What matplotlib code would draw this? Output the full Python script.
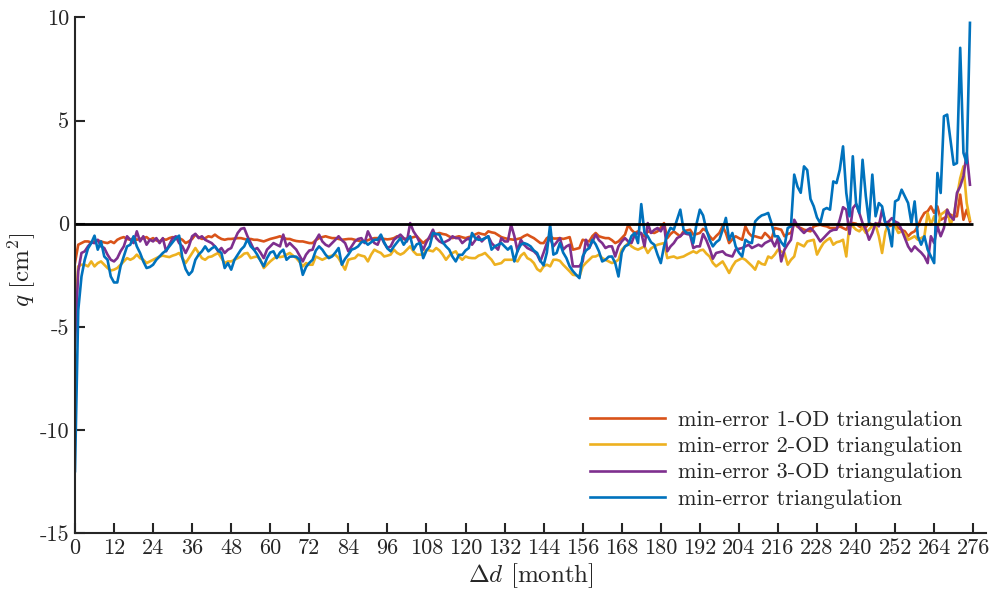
import numpy as np
import matplotlib
matplotlib.use('Agg')
import matplotlib.pyplot as plt

plt.rcParams['font.family'] = 'serif'
plt.rcParams['font.serif'] = ['cmr10']
plt.rcParams['mathtext.fontset'] = 'cm'
plt.rcParams['axes.unicode_minus'] = False
plt.rcParams['axes.formatter.use_mathtext'] = False

# months since start
months = np.arange(276)

# min-error 1-OD triangulation
q_1od = [
    -1.90, -1.02, -0.94, -0.86, -0.86, -0.91, -0.86, -0.81, -0.86, -0.91, -0.94, -0.86,
    -0.94, -0.78, -0.70, -0.65, -0.74, -0.78, -0.70, -0.78, -0.74, -0.70, -0.65, -0.78,
    -0.70, -0.81, -0.86, -0.74, -0.78, -0.70, -0.65, -0.74, -0.70, -0.78, -0.94, -0.86,
    -0.74, -0.53, -0.65, -0.74, -0.70, -0.61, -0.65, -0.53, -0.65, -0.74, -0.78, -0.74,
    -0.74, -0.72, -0.70, -0.70, -0.74, -0.78, -0.74, -0.78, -0.78, -0.82, -0.86, -0.80,
    -0.74, -0.70, -0.66, -0.61, -0.68, -0.74, -0.74, -0.80, -0.84, -0.86, -0.86, -0.90,
    -0.94, -0.94, -0.80, -0.70, -0.65, -0.61, -0.66, -0.70, -0.70, -0.74, -0.78, -0.76,
    -0.74, -0.74, -0.78, -0.82, -0.86, -0.86, -0.80, -0.74, -0.70, -0.70, -0.72, -0.74,
    -0.76, -0.74, -0.70, -0.61, -0.68, -0.74, -0.72, -0.70, -0.65, -0.61, -0.78, -0.94,
    -0.80, -0.70, -0.60, -0.50, -0.45, -0.50, -0.53, -0.62, -0.70, -0.65, -0.61, -0.66,
    -0.70, -0.65, -0.61, -0.52, -0.45, -0.50, -0.53, -0.37, -0.42, -0.45, -0.55, -0.65,
    -0.70, -0.74, -0.76, -0.78, -0.74, -0.70, -0.60, -0.53, -0.62, -0.70, -0.82, -0.94,
    -0.94, -0.70, -0.61, -0.72, -0.72, -0.70, -0.74, -0.70, -0.65, -1.26, -1.22, -1.18,
    -0.78, -0.82, -0.86, -0.60, -0.45, -0.61, -0.66, -0.70, -0.70, -0.80, -0.94, -0.86,
    -0.70, -0.53, -0.05, -0.30, -0.45, -0.37, -0.50, -0.61, -0.37, -0.42, -0.45, -0.37,
    -0.20, 0.03, -0.70, -0.50, -0.37, -0.50, -0.61, -0.37, -0.33, -0.29, -0.53, -0.50,
    -0.45, -0.25, -0.35, -0.61, -0.78, -0.60, -0.45, -0.13, -0.45, -0.94, -0.75, -0.61,
    -0.70, -0.78, -0.13, -0.45, -0.61, -0.61, -0.66, -0.70, -0.45, -0.60, -0.78, -0.21,
    -0.25, -0.29, -0.61, -0.50, -0.45, 0.03, -0.15, -0.21, -0.29, -0.33, -0.37, -0.13,
    -0.08, -0.05, -0.10, -0.13, -0.21, -0.21, -0.21, -0.13, -0.21, -0.29, 0.03, 0.03,
    0.00, -0.13, -0.21, -0.17, 0.03, -0.05, -0.05, 0.03, -0.02, -0.05, -0.13, -0.08,
    -0.05, -0.21, -0.30, -0.37, -0.61, -0.45, -0.37, -0.13, 0.25, 0.52, 0.60, 0.84,
    0.52, 0.84, 0.19, 0.27, 0.35, 0.44, 0.35, 0.36, 1.41, 0.19, 0.68, 0.11,
]

# min-error 2-OD triangulation
q_2od = [
    -4.50, -2.07, -1.99, -1.99, -2.07, -1.83, -2.07, -1.91, -1.83, -1.99, -2.15, -2.27,
    -2.23, -2.15, -1.99, -1.83, -1.67, -1.75, -1.67, -1.50, -1.67, -1.75, -1.91, -1.83,
    -1.75, -1.67, -1.59, -1.55, -1.59, -1.62, -1.55, -1.50, -1.42, -1.67, -1.91, -1.67,
    -1.42, -1.18, -1.42, -1.67, -1.75, -1.62, -1.59, -1.50, -1.42, -1.67, -1.91, -1.83,
    -1.83, -1.75, -1.67, -1.59, -1.45, -1.42, -1.67, -1.62, -1.59, -1.75, -2.15, -1.99,
    -1.83, -1.70, -1.59, -1.62, -1.59, -1.50, -1.42, -1.55, -1.67, -1.85, -2.07, -1.91,
    -1.99, -1.99, -1.59, -1.67, -1.75, -1.67, -1.59, -1.55, -1.50, -1.67, -1.95, -2.23,
    -1.75, -1.70, -1.67, -1.50, -1.55, -1.59, -1.83, -1.50, -1.26, -1.35, -1.42, -1.59,
    -1.55, -1.50, -1.26, -1.42, -1.50, -1.42, -1.26, -1.10, -1.34, -1.50, -1.50, -1.50,
    -1.26, -1.30, -1.34, -1.18, -1.30, -1.50, -1.75, -1.55, -1.42, -1.34, -1.60, -1.75,
    -1.59, -1.65, -1.67, -1.67, -1.55, -1.50, -1.42, -1.59, -1.75, -1.99, -1.95, -1.91,
    -1.75, -1.75, -1.75, -1.75, -1.83, -1.55, -1.42, -1.67, -1.75, -1.91, -2.20, -2.31,
    -2.07, -1.99, -2.07, -1.75, -1.75, -1.80, -1.99, -2.15, -2.31, -2.48, -2.50, -2.56,
    -2.07, -1.90, -1.75, -1.60, -1.59, -1.50, -1.67, -1.75, -1.83, -1.91, -1.85, -1.75,
    -1.26, -1.10, -0.94, -1.10, -1.20, -1.26, -1.18, -1.10, -1.42, -1.20, -1.10, -1.02,
    -0.98, -0.94, -1.67, -1.62, -1.59, -1.67, -1.63, -1.59, -1.50, -1.42, -1.34, -1.42,
    -1.30, -1.26, -1.45, -1.59, -1.90, -2.07, -1.95, -1.83, -2.10, -2.39, -2.07, -1.83,
    -1.75, -1.67, -1.75, -1.90, -2.05, -2.23, -1.83, -1.95, -1.99, -1.59, -1.67, -1.50,
    -1.26, -1.35, -1.42, -1.99, -1.75, -1.59, -0.94, -1.02, -1.10, -0.86, -0.82, -0.78,
    -1.50, -1.20, -0.94, -0.80, -0.70, -1.02, -0.90, -0.86, -0.78, -1.59, 0.03, -0.13,
    -0.29, -0.37, -0.20, -0.45, -0.29, -0.10, -0.05, -0.61, -1.42, -0.40, 0.03, -0.05,
    -0.13, -0.45, -0.37, -0.50, -0.78, -0.70, -0.61, -0.78, -0.70, -0.61, 0.52, -0.05,
    0.36, -0.29, 0.44, 0.55, 0.68, -0.05, 0.36, 1.30, 2.20, 2.78, 1.00, 0.19,
]

# min-error 3-OD triangulation
q_3od = [
    -5.90, -2.30, -1.42, -1.34, -1.10, -0.91, -0.94, -0.78, -1.10, -1.18, -1.50, -1.75,
    -1.83, -1.67, -1.34, -1.10, -0.61, -0.78, -0.94, -0.37, -0.86, -0.61, -1.02, -0.78,
    -0.86, -0.70, -0.94, -0.70, -1.34, -1.02, -0.70, -0.61, -0.94, -1.10, -1.42, -1.10,
    -0.61, -0.49, -0.70, -0.61, -0.78, -0.86, -0.94, -1.10, -1.34, -1.18, -1.42, -1.26,
    -1.18, -0.80, -0.45, -0.25, -0.21, -0.61, -0.94, -1.26, -1.18, -1.40, -1.67, -1.26,
    -1.10, -0.94, -1.02, -1.10, -0.53, -1.10, -0.94, -1.10, -1.26, -1.55, -1.83, -1.50,
    -1.30, -1.26, -0.80, -0.53, -0.86, -1.02, -1.10, -0.94, -0.78, -0.61, -0.80, -0.94,
    -1.34, -1.10, -0.86, -0.74, -0.70, -0.94, -0.37, -0.70, -0.94, -1.02, -0.61, -0.94,
    -1.18, -1.10, -0.78, -0.65, -0.53, -0.70, -0.86, 0.03, -0.37, -0.61, -0.94, -1.26,
    -0.90, -0.61, -0.29, -0.70, -0.86, -0.94, -0.86, -0.78, -0.61, -0.70, -0.70, -0.94,
    -0.80, -0.70, -1.02, -0.80, -0.61, -0.86, -0.70, -0.61, -0.94, -1.10, -1.26, -0.70,
    -0.86, -0.86, -0.05, -0.60, -1.34, -0.78, -1.02, -1.18, -1.26, -1.34, -1.50, -1.83,
    -1.40, -0.94, -0.70, -1.10, -0.90, -0.70, -1.26, -1.10, -1.02, -2.07, -2.07, -2.07,
    -1.83, -0.78, -1.18, -0.86, -0.53, -0.80, -0.94, -1.18, -1.10, -1.10, -1.59, -1.10,
    -0.86, -0.70, -0.86, -0.94, -0.53, -0.45, -0.45, -1.10, 0.03, -0.45, -0.30, -0.21,
    -0.37, -0.05, -1.34, -1.10, -0.94, -0.70, -0.61, -0.45, -0.50, -0.53, -1.18, -1.10,
    -1.10, -0.50, -0.80, -1.20, -1.70, -1.42, -1.38, -1.34, -1.50, -1.55, -1.59, -1.26,
    -1.22, -1.18, -1.10, -1.02, -1.18, -1.10, -1.02, -1.10, -0.94, -0.86, -0.78, -1.10,
    -0.70, -1.83, -1.26, -1.00, -0.78, 0.19, -0.10, -0.29, -0.45, -0.30, -0.21, -0.37,
    -0.60, -0.86, -0.70, -0.53, -0.37, -0.30, -0.29, 0.19, 0.80, 0.68, -0.50, 0.75,
    0.95, 0.52, 0.03, -0.29, -0.78, -0.45, 0.03, -0.13, 0.68, 0.03, 0.10, 0.27,
    0.10, 0.03, -0.29, -0.70, -1.10, -1.34, -1.10, -1.26, -1.40, -1.59, -1.91, -0.61,
    -0.94, -0.13, -0.61, -0.21, 0.68, 0.36, 0.19, 1.49, 1.81, 2.30, 3.43, 1.89,
]

# min-error triangulation
q_min = [
    -12.00, -4.20, -2.56, -1.75, -1.20, -0.94, -0.58, -1.26, -0.86, -1.59, -1.75, -2.56,
    -2.85, -2.85, -2.07, -1.59, -1.10, -1.02, -0.61, -1.10, -1.42, -1.83, -2.15, -2.10,
    -1.99, -1.75, -1.59, -1.42, -1.30, -1.10, -0.90, -0.70, -0.58, -1.67, -2.20, -2.48,
    -2.31, -1.75, -1.50, -1.34, -1.10, -1.34, -1.20, -1.10, -1.30, -1.42, -2.15, -1.91,
    -2.23, -1.75, -1.50, -1.26, -1.10, -0.75, -1.10, -1.26, -1.50, -1.80, -2.07, -1.67,
    -1.40, -1.34, -1.67, -1.40, -1.26, -1.75, -1.60, -1.59, -1.60, -1.75, -2.48, -2.10,
    -1.90, -1.75, -1.30, -1.10, -1.26, -1.50, -1.67, -1.59, -1.40, -1.18, -1.99, -1.70,
    -1.50, -1.26, -1.20, -1.10, -0.90, -0.86, -1.02, -0.90, -0.78, -0.78, -0.53, -0.90,
    -1.20, -1.34, -1.10, -0.90, -0.70, -1.02, -0.80, -0.61, -1.26, -1.00, -0.94, -1.67,
    -1.30, -1.10, -0.45, -0.50, -0.53, -0.90, -1.10, -1.26, -1.60, -1.83, -1.51, -1.51,
    -1.30, -1.18, -0.45, -0.70, -0.78, -0.78, -0.70, -0.61, -1.26, -1.10, -1.02, -0.94,
    -1.10, -1.26, -1.10, -1.83, -1.30, -1.02, -0.94, -1.00, -1.10, -1.30, -1.42, -1.80,
    -2.02, -1.40, -0.05, -1.50, -1.42, -0.94, -1.40, -1.67, -2.07, -2.30, -2.48, -2.64,
    -1.59, -1.30, -1.18, -0.78, -1.00, -1.34, -1.83, -1.75, -1.60, -1.59, -1.91, -2.56,
    -1.40, -1.10, -1.02, -0.60, -0.45, -0.94, 0.95, -0.45, -0.61, -0.90, -1.02, -1.50,
    -1.91, -1.10, -0.53, -0.20, -0.29, 0.20, 0.68, -0.29, -0.45, -0.45, -0.94, 0.00,
    0.68, 0.40, -0.29, -0.78, -1.10, -0.90, -0.78, -0.30, 0.28, -0.78, -0.45, -1.10,
    -1.40, -1.59, -0.78, -0.90, -0.94, 0.11, 0.28, 0.40, 0.45, 0.52, 0.03, -0.61,
    -0.61, -0.90, -1.10, -0.21, -0.13, 2.38, 1.80, 1.50, 2.78, 2.60, 1.20, 0.84,
    0.30, 0.03, 0.68, 0.76, 0.68, 2.05, 1.97, 2.62, 3.75, 1.49, 0.36, 3.27,
    1.00, 0.52, 3.10, 1.33, 0.03, 2.38, 0.36, 1.00, 0.84, 0.03, -0.29, -1.10,
    1.08, 1.17, 1.65, 1.33, 1.00, 0.03, 1.08, -0.61, -1.02, -0.61, -1.26, -1.59,
    -1.91, 2.46, 1.49, 5.21, 5.29, 4.08, 2.86, 2.94, 8.53, 3.43, 2.94, 9.74,
]

labels = ['min-error 1-OD triangulation', 'min-error 2-OD triangulation',
          'min-error 3-OD triangulation', 'min-error triangulation']
colors = ['#D95319', '#EDB120', '#7E2F8E', '#0072BD']

fig = plt.figure(figsize=(9.97, 5.93), dpi=100)
ax = fig.add_axes([0.0752, 0.1012, 0.914, 0.8693])

for data, lab, col in zip([q_1od, q_2od, q_3od, q_min], labels, colors):
    ax.plot(months, data, color=col, linewidth=1.9, label=lab)

ax.hlines(0, 0, 276, color='black', linewidth=2.0, zorder=5)

ax.set_xlim(0, 280)
ax.set_ylim(-15, 10)
ax.set_xticks(np.arange(0, 277, 12))
ax.set_yticks([-15, -10, -5, 0, 5, 10])

for side in ['top', 'right']:
    ax.spines[side].set_visible(False)
for side in ['left', 'bottom']:
    ax.spines[side].set_color('#262626')
    ax.spines[side].set_linewidth(1.5)

ax.tick_params(direction='in', length=7, width=1.5, color='#262626',
               labelsize=16, labelcolor='#262626', pad=4)

ax.set_xlabel(r'$\Delta d$ [month]', fontsize=18, color='#262626', labelpad=2)
ax.set_ylabel(r'$q\ [\mathrm{cm}^2]$', fontsize=18, color='#262626', va='center')
ax.yaxis.set_label_coords(-0.058, 0.51)

leg = ax.legend(loc='lower right', bbox_to_anchor=(0.983, 0.03), frameon=False,
                fontsize=16, handlelength=3.4, handletextpad=0.55, labelspacing=0.3,
                borderaxespad=0)
for t in leg.get_texts():
    t.set_color('#262626')

fig.savefig('out.png', dpi=100)
